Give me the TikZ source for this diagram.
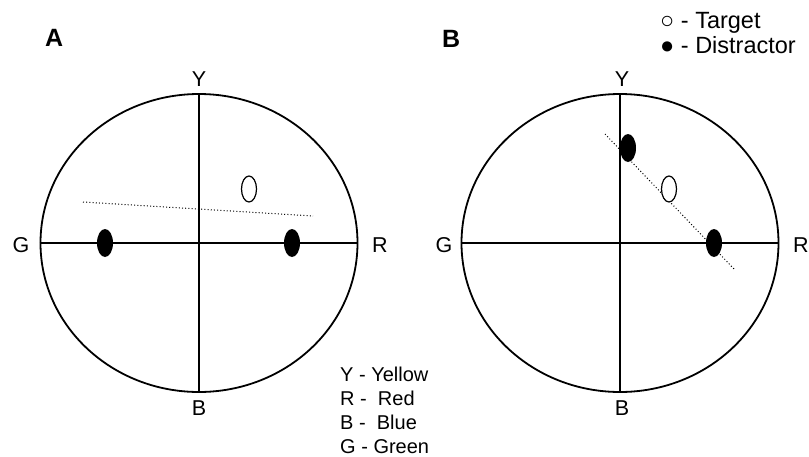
\documentclass[tikz,border=0pt]{standalone}
\usepackage{fontspec}
\setmainfont{Liberation Sans}
\usetikzlibrary{shapes.geometric}
\begin{document}
\begin{tikzpicture}[x=1pt,y=-1pt,
  wheel/.style={draw, ellipse, line width=1.8pt, inner sep=0pt, minimum width=317pt, minimum height=298pt},
  axis/.style={line width=1.8pt},
  dist/.style={ellipse, fill=black, inner sep=0pt, minimum width=16pt, minimum height=28pt},
  targ/.style={ellipse, draw, line width=1.2pt, fill=white, inner sep=0pt, minimum width=15pt, minimum height=26pt},
  lbl/.style={inner sep=0pt, anchor=base, font=\fontsize{21.5}{26}\selectfont},
  leg/.style={inner sep=0pt, anchor=base west, font=\fontsize{20}{24}\selectfont},
  key/.style={inner sep=0pt, anchor=base west, font=\fontsize{23.5}{28}\selectfont},
  panel/.style={inner sep=0pt, anchor=base west, font=\fontsize{25}{30}\selectfont\bfseries},
  dotline/.style={line width=1pt, dash pattern=on 1pt off 2.2pt}]
\useasboundingbox (0,0) rectangle (809,456);
% Panel A
\node[panel] (pA) at (45,46) {A};
\node[wheel] (eA) at (199,243) {};
\draw[axis] (eA.north) -- (eA.south);
\draw[axis] (eA.west) -- (eA.east);
\node[lbl] (YA) at (199,86) {Y};
\node[lbl] (GA) at (21,252) {G};
\node[lbl] (RA) at (380,252) {R};
\node[lbl] (BA) at (199,415) {B};
\coordinate (dA1) at (83,202);
\coordinate (dA2) at (313,216);
\draw[dotline] (dA1) -- (dA2);
\node[dist] (dA) at (105,243) {};
\node[dist] (dB) at (292,243) {};
\node[targ] (tA) at (249,189) {};
% Panel B
\node[panel] (pB) at (442,47) {B};
\node[wheel] (eB) at (620,243) {};
\draw[axis] (eB.north) -- (eB.south);
\draw[axis] (eB.west) -- (eB.east);
\node[lbl] (YB) at (622,86) {Y};
\node[lbl] (GB) at (444,252) {G};
\node[lbl] (RB) at (801,252) {R};
\node[lbl] (BB) at (622,415) {B};
\coordinate (dB1) at (605,134);
\coordinate (dB2) at (735,270);
\draw[dotline] (dB1) -- (dB2);
\node[dist] (dC) at (628,148) {};
\node[dist] (dD) at (714,243) {};
\node[targ] (tB) at (669,189) {};
% Legends
\node[leg] (l1) at (340,381) {Y - Yellow};
\node[leg] (l2) at (340,405) {R -\ \ Red};
\node[leg] (l3) at (340,429) {B -\ \ Blue};
\node[leg] (l4) at (340,453) {G - Green};
\node[key] (k1) at (660,28) {○ - Target};
\node[key] (k2) at (660,53) {● - Distractor};
\end{tikzpicture}
\end{document}
